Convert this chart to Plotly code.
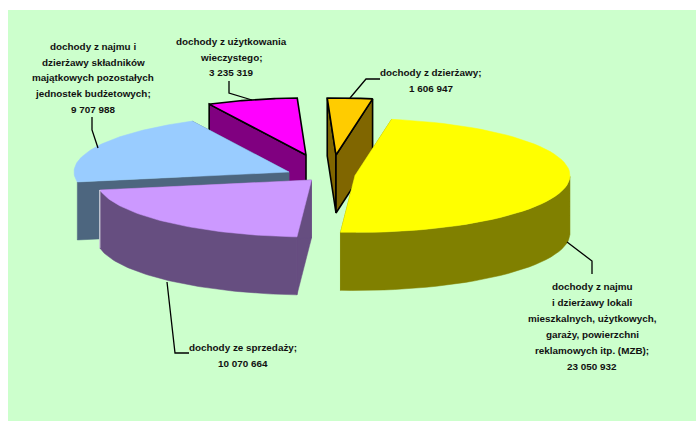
import math
import plotly.graph_objects as go

# ---- data ----
names = ["yellow", "sales", "blue", "pink", "orange"]
values = [23050932, 10070664, 9707988, 3235319, 1606947]
label_lines = [
    ["dochody z najmu", "i dzierżawy lokali", "mieszkalnych, użytkowych,", "garaży, powierzchni",
     "reklamowych itp. (MZB);", "23 050 932"],
    ["dochody ze sprzedaży;", "10 070 664"],
    ["dochody z najmu i", "dzierżawy składników", "majątkowych pozostałych", "jednostek budżetowych;", "9 707 988"],
    ["dochody z użytkowania", "wieczystego;", "3 235 319"],
    ["dochody z dzierżawy;", "1 606 947"],
]
top_colors = ["#FFFF00", "#CC99FF", "#99CCFF", "#FF00FF", "#FFCC00"]
side_colors = ["#808000", "#664E80", "#4D667F", "#800080", "#806600"]

# ---- style / geometry ----
W, H = 696, 421
PANEL = (8, 10, 696, 421)
RX, RY, DEPTH = 215, 57, 58
START_DEG = 80.2
centers = [(355, 175.5), (311.5, 180), (289, 172), (306, 155), (336, 155)]
outlined = [False, False, False, True, True]
show_start_cut = [True, True, True, True, True]
show_end_cut = [True, True, True, False, True]
show_curved = [True, True, False, False, False]
label_x = [592, 243, 93, 231, 431]
label_y = [[286, 302, 318, 334, 350, 366], [347, 363], [46, 62, 77, 93, 109], [41, 57, 72], [72, 88]]
leaders = [
    [(567, 242), (592, 261), (592, 274)],
    [(167, 282), (175, 353), (189, 353)],
    [(92, 117), (92, 130), (98, 148)],
    [(229, 81), (229, 93), (252, 100)],
    [(380, 79), (366, 79), (350, 98)],
]

# ---- slice angles from the values ----
total = sum(values)
angles = []
a = START_DEG
for v in values:
    b = a - v / total * 360
    angles.append((a, b))
    a = b


def rim(i, a0, a1, n=60):
    cx, cy = centers[i]
    pts = []
    for k in range(n + 1):
        t = math.radians(a0 + (a1 - a0) * k / n)
        pts.append((cx + RX * math.cos(t), cy - RY * math.sin(t)))
    return pts


def poly(fig, pts, fill, line=None, width=0):
    xs = [p[0] for p in pts] + [pts[0][0]]
    ys = [p[1] for p in pts] + [pts[0][1]]
    fig.add_trace(go.Scatter(
        x=xs, y=ys, mode="lines", fill="toself", fillcolor=fill,
        line=dict(color=line or fill, width=width if line else 0.5),
        hoverinfo="skip", showlegend=False))


def wall(pts):
    return pts + [(x, y + DEPTH) for x, y in reversed(pts)]


fig = go.Figure()


def draw_slice(i):
    a0, a1 = angles[i]
    cx, cy = centers[i]
    rim_pts = rim(i, a0, a1)
    top = [(cx, cy)] + rim_pts
    line = "#000000" if outlined[i] else None
    w = 1.6 if outlined[i] else 0
    # flat cut faces
    if show_start_cut[i]:
        poly(fig, wall([(cx, cy), rim_pts[0]]), side_colors[i], line, w)
    if show_end_cut[i]:
        poly(fig, wall([(cx, cy), rim_pts[-1]]), side_colors[i], line, w)
    # outer curved face (front half only)
    front = [p for p, k in zip(rim_pts, range(len(rim_pts)))
             if math.sin(math.radians(a0 + (a1 - a0) * k / 60)) <= 0]
    if show_curved[i] and len(front) > 1:
        poly(fig, wall(front), side_colors[i], line, w)
    poly(fig, top, top_colors[i], line, w)


for i in (3, 4, 2, 0, 1):
    draw_slice(i)

# thin light edge on the sales slice, where its two side faces meet
sx, sy = rim(1, *angles[1])[0]
ex, ey = rim(1, *angles[1])[-1]
fig.add_trace(go.Scatter(x=[ex, ex], y=[ey, ey + DEPTH], mode="lines",
                         line=dict(color="#E8F4F0", width=1), hoverinfo="skip", showlegend=False))

for pts in leaders:
    fig.add_trace(go.Scatter(
        x=[p[0] for p in pts], y=[p[1] for p in pts], mode="lines",
        line=dict(color="#000000", width=1.3), hoverinfo="skip", showlegend=False))

for lines, lx, ys in zip(label_lines, label_x, label_y):
    for text, y in zip(lines, ys):
        fig.add_annotation(x=lx, y=y, text=text, showarrow=False, xanchor="center", yanchor="middle",
                           font=dict(family="Liberation Sans", size=9.9, color="#111111", weight="bold"))

fig.update_layout(
    width=W, height=H, autosize=False,
    paper_bgcolor="#FFFFFF", plot_bgcolor="#CCFFCC",
    margin=dict(l=PANEL[0], t=PANEL[1], r=W - PANEL[2], b=H - PANEL[3], pad=0),
    xaxis=dict(range=[PANEL[0], PANEL[2]], visible=False, fixedrange=True),
    yaxis=dict(range=[PANEL[3], PANEL[1]], visible=False, fixedrange=True),
    showlegend=False,
)
fig.write_html("out.html", config={"displayModeBar": False},
               post_script="document.body.style.margin='0';document.body.style.overflow='hidden';")
